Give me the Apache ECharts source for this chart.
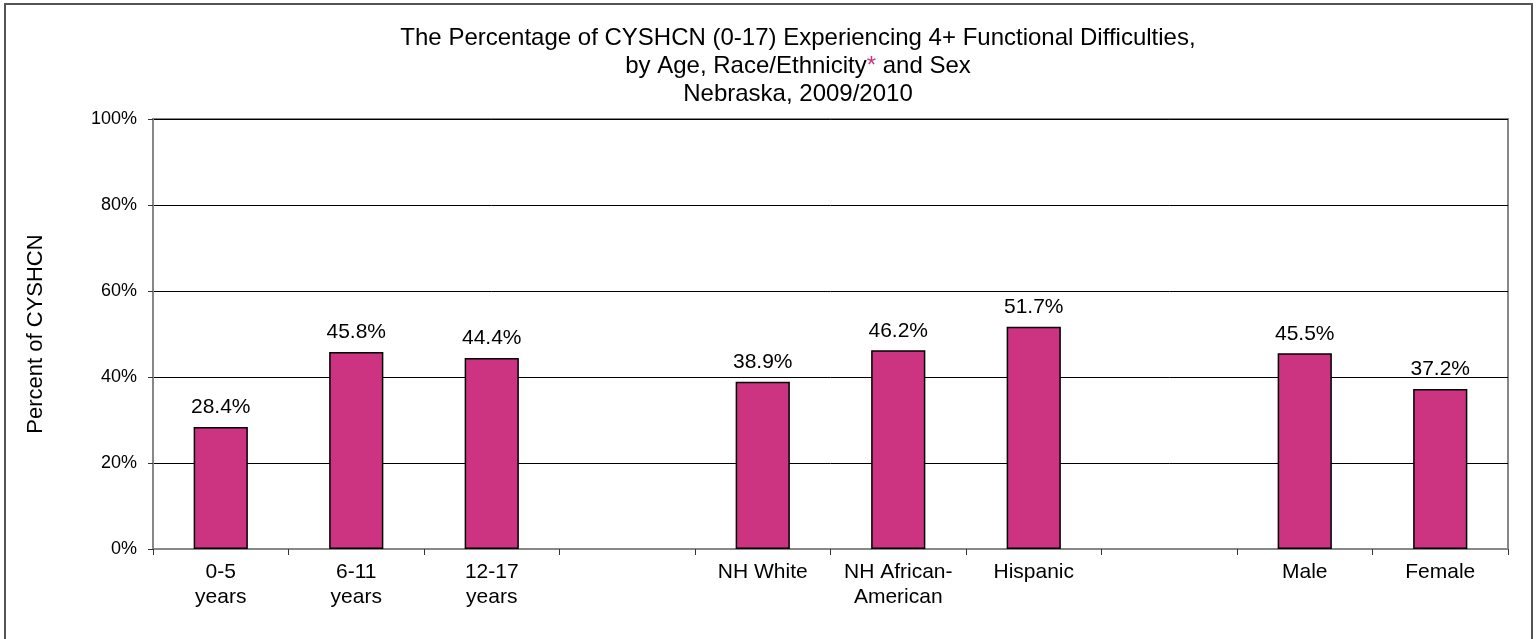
<!DOCTYPE html>
<html>
<head>
<meta charset="utf-8">
<script src="https://cdn.jsdelivr.net/npm/echarts@6/dist/echarts.min.js"></script>
<style>
    html, body { margin: 0; padding: 0; background: #fff; }
    #chart { width: 1538px; height: 639px; }
</style>
</head>
<body>
<div id="chart"></div>
<script>
// categories (empty strings are the gaps between groups)
const categories = ['0-5\nyears', '6-11\nyears', '12-17\nyears', '', 'NH White', 'NH African-\nAmerican', 'Hispanic', '', 'Male', 'Female'];
const values = [28.4, 45.8, 44.4, null, 38.9, 46.2, 51.7, null, 45.5, 37.2];
const yTicks = [0, 20, 40, 60, 80, 100];

const font = 'Arial, "Liberation Sans", sans-serif';
const chart = echarts.init(document.getElementById('chart'));

chart.setOption({
    animation: false,
    backgroundColor: '#fff',
    textStyle: { fontFamily: font },
    title: {
        text: 'The Percentage of CYSHCN (0-17) Experiencing 4+ Functional Difficulties,\nby Age, Race/Ethnicity{a|*} and Sex\nNebraska, 2009/2010',
        left: 793,
        top: 19,
        textAlign: 'center',
        textStyle: {
            fontFamily: font,
            fontSize: 24,
            fontWeight: 'normal',
            color: '#000',
            lineHeight: 28,
            rich: { a: { color: '#CC3380', fontSize: 24, fontFamily: font, lineHeight: 28 } },
        },
    },
    //外框
    graphic: [{
        type: 'rect',
        shape: { x: 5, y: 4, width: 1527, height: 700 },
        style: { fill: 'none', stroke: '#555', lineWidth: 2 },
        silent: true,
    }],
    grid: { left: 153, right: 30, top: 119, bottom: 90, show: true, borderColor: '#888', borderWidth: 2 },
    xAxis: {
        type: 'category',
        data: categories,
        axisLine: { lineStyle: { color: '#888', width: 2 } },
        axisTick: { show: true, alignWithLabel: false, length: 6, lineStyle: { color: '#333' } },
        axisLabel: { color: '#000', fontSize: 21, fontFamily: font, lineHeight: 25, margin: 11, interval: 0 },
    },
    yAxis: {
        type: 'value',
        min: yTicks[0],
        max: yTicks[yTicks.length - 1],
        interval: 20,
        name: 'Percent of CYSHCN',
        nameLocation: 'middle',
        nameGap: 106,
        nameTextStyle: { color: '#000', fontSize: 22, fontFamily: font },
        axisLine: { show: true, lineStyle: { color: '#888', width: 2 } },
        axisTick: { show: true, length: 5, lineStyle: { color: '#333' } },
        axisLabel: { color: '#000', fontSize: 18, fontFamily: font, formatter: '{value}%', margin: 16 },
        splitLine: { lineStyle: { color: '#000', width: 1 } },
    },
    series: [{
        type: 'bar',
        data: values,
        barWidth: '40%',
        itemStyle: { color: '#CC3380', borderColor: '#000', borderWidth: 1.5 },
        label: {
            show: true,
            position: 'top',
            distance: 9,
            color: '#000',
            fontSize: 21,
            fontFamily: font,
            formatter: (p) => p.value.toFixed(1) + '%',
        },
    }],
});
</script>
</body>
</html>
